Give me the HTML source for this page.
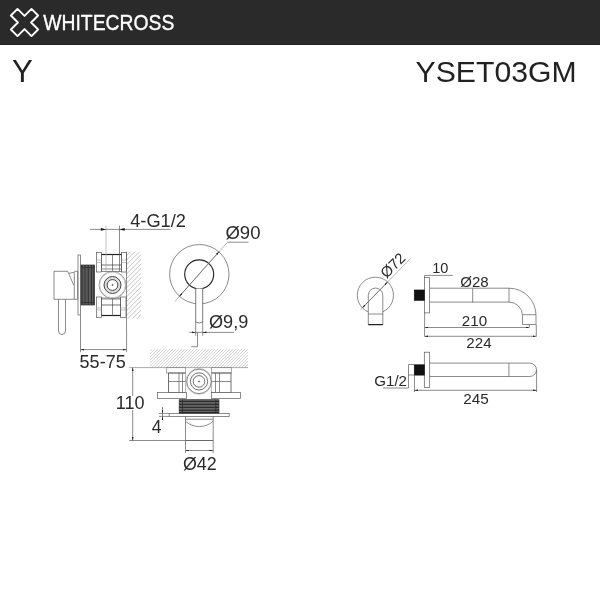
<!DOCTYPE html>
<html><head><meta charset="utf-8">
<style>
html,body{margin:0;padding:0;background:#fff;width:600px;height:600px;overflow:hidden}
svg{display:block;filter:grayscale(1)}
text{font-family:"Liberation Sans",sans-serif}
</style></head>
<body>
<svg width="600" height="600" viewBox="0 0 600 600">
<defs>
<pattern id="hatch" patternUnits="userSpaceOnUse" width="3.25" height="3.25" patternTransform="rotate(45)">
<line x1="0" y1="0" x2="0" y2="3.25" stroke="#777" stroke-width="0.65"/>
</pattern>
<pattern id="hatch2" patternUnits="userSpaceOnUse" width="2.12" height="2.12" patternTransform="rotate(45)">
<line x1="0" y1="0" x2="0" y2="2.12" stroke="#888" stroke-width="0.55"/>
</pattern>
<marker id="ar" viewBox="0 0 8 4" refX="8" refY="2" markerWidth="3.8" markerHeight="1.9" markerUnits="userSpaceOnUse" orient="auto">
<path d="M0,0 L8,2 L0,4 z" fill="#222"/>
</marker>
<marker id="arL" viewBox="0 0 8 4" refX="8" refY="2" markerWidth="8" markerHeight="2.6" markerUnits="userSpaceOnUse" orient="auto">
<path d="M0,0 L8,2 L0,4 z" fill="#111"/>
</marker>
</defs>
<!-- header -->
<rect x="0" y="0" width="600" height="45" fill="#2b2a29"/>
<rect x="0" y="44" width="600" height="1" fill="#222"/>
<path d="M17.5,8.9 L24.5,15.9 L31.5,8.9 L38.1,15.5 L31.1,22.5 L38.1,29.5 L31.5,36.1 L24.5,29.1 L17.5,36.1 L10.9,29.5 L17.9,22.5 L10.9,15.5 Z" fill="none" stroke="#fff" stroke-width="1.9" stroke-linejoin="round"/>
<text x="43.3" y="29.8" font-size="21.3" fill="#fff" stroke="#fff" stroke-width="0.35" textLength="131" lengthAdjust="spacingAndGlyphs">WHITECROSS</text>
<text x="11.9" y="82.2" font-size="31.2" fill="#222">Y</text>
<text x="415.6" y="82.2" font-size="29.8" fill="#222" textLength="161" lengthAdjust="spacingAndGlyphs">YSET03GM</text>

<g fill="none" stroke="#5a5a5a" stroke-width="0.7">
<!-- ===== side view valve ===== -->
<!-- handle -->
<path d="M54,271.3 H67.7 L68.7,273.3 L74.3,272.3 V299.3 H54 Z"/>
<path d="M74.3,271.3 H77.7 V299.3 H74.3"/>
<path d="M68.7,273.3 L73.7,285.3"/>
<path d="M58.5,299.3 V331 Q58.5,334.5 62,334.5 Q65.5,334.5 65.5,331 V299.3"/>
<!-- plate -->
<rect x="78" y="255" width="2.6" height="60"/>
<!-- thread -->
<rect x="81" y="265" width="13.5" height="40" fill="#5a5a5a" stroke="#333"/>
<path d="M82,265 V305 M85,265 V305 M88.3,265 V305 M91.5,265 V305 M93.8,265 V305" stroke="#2a2a2a" stroke-width="0.8"/>
<path d="M81,267.5 H94.5 M81,302.5 H94.5" stroke="#333" stroke-width="1.2"/>
<!-- top block -->
<rect x="96.5" y="252.5" width="5" height="19.5"/>
<rect x="121.5" y="252.5" width="5" height="19.5"/>
<rect x="101.5" y="254.5" width="20" height="17"/>
<path d="M101.5,254.5 H121.5" stroke="#222" stroke-width="1.2"/>
<path d="M112.5,254.5 V271.5 M101.5,269 H121.5"/>
<path d="M101.5,265 H121.5" stroke="#333"/>
<path d="M96.5,260 H101.5 M96.5,262.5 H101.5 M121.5,260 H126.5 M121.5,262.5 H126.5" stroke="#aaa"/>
<!-- bottom block -->
<rect x="96.5" y="297" width="5" height="20.5"/>
<rect x="120.5" y="297" width="5.5" height="20.5"/>
<rect x="101.5" y="298" width="19" height="17.5"/>
<path d="M101.5,315.5 H120.5" stroke="#222" stroke-width="1.2"/>
<path d="M112.5,298 V315.5 M101.5,299 H120.5"/>
<path d="M101.5,305 H120.5" stroke="#333"/>
<path d="M96.5,308 H101.5 M96.5,310 H101.5 M120.5,308 H126 M120.5,310 H126" stroke="#aaa"/>
<!-- center circles -->
<circle cx="112.5" cy="285" r="13.4"/>
<circle cx="112.5" cy="285" r="7" stroke="#ddd" stroke-width="3"/>
<circle cx="112.5" cy="285" r="12.8" stroke="#ccc" stroke-width="1"/>
<circle cx="112.5" cy="285" r="8.5" stroke="#333" stroke-width="0.9"/>
<circle cx="112.5" cy="285" r="5.4" stroke="#333" stroke-width="0.9"/>
<circle cx="112.5" cy="285" r="0.6" fill="#444"/>
<!-- wall -->
<rect x="126.5" y="251.7" width="14.5" height="67" fill="url(#hatch)" stroke="none"/>
<path d="M126.5,251.7 V330"/>
<!-- dims 4-G1/2 -->
<path d="M106,225.6 V271.5" stroke="#aaa"/>
<path d="M119.5,225.6 V271.5"/>
<path d="M90,229.4 H106" marker-end="url(#arL)"/>
<path d="M170.5,229.4 H119.5" marker-end="url(#arL)"/>
<path d="M106,229.4 H119.5"/>
<!-- 55-75 -->
<path d="M80.5,315 V352.2 M126.6,330 V352.2"/>
<path d="M103,349.6 H80.5" marker-end="url(#ar)"/>
<path d="M103,349.6 H126.6" marker-end="url(#ar)"/>

<!-- ===== front view ===== -->
<circle cx="199.3" cy="274.2" r="29.7"/>
<circle cx="199.2" cy="274.3" r="14.5" stroke="#222" stroke-width="1.15"/>
<path d="M195.7,288.6 V322 Q199.2,324 202.7,322 V288.6" fill="#fff" stroke="#444"/>
<path d="M195.7,322 V335.7 M202.7,322 V335.7"/>
<path d="M227.5,242.2 H248.5"/>
<path d="M227.5,242.2 L175,301.3" stroke="#999"/>
<path d="M199.2,274 L219.15,251.6" marker-end="url(#ar)"/>
<path d="M199.2,274 L179.3,296.45" marker-end="url(#ar)"/>
<path d="M189.3,332.4 H195.7" marker-end="url(#ar)"/>
<path d="M234,332.4 H202.7" marker-end="url(#ar)"/>
<path d="M195.7,332.4 H202.7"/>
<path d="M197.5,332.4 V346.7 H191.3"/>

<!-- ===== top view ===== -->
<rect x="150" y="349.2" width="98" height="18.3" fill="url(#hatch2)" stroke="none"/>
<path d="M129.2,367.6 H248" stroke="#888"/>
<!-- left nut -->
<rect x="166.5" y="367.5" width="19" height="5.5" stroke="#888"/>
<path d="M185.5,373 H168.5 V392.5" stroke="#333"/>
<path d="M168.5,392.5 H185.5 V373" stroke="#999"/>
<path d="M168.5,381.5 H185.5 M179,373 V392.5 M182.5,373 V392.5"/>
<rect x="157.5" y="392.5" width="29" height="6"/>
<!-- right nut -->
<rect x="211.5" y="367.5" width="20" height="5.5" stroke="#888"/>
<path d="M211.5,373 H231 V392.5" stroke="#333"/>
<path d="M231,392.5 H211.5 V373" stroke="#999"/>
<path d="M211.5,381.5 H231 M215.5,373 V392.5 M219.5,373 V392.5"/>
<rect x="211.5" y="392.5" width="29" height="6"/>
<!-- circles -->
<circle cx="199" cy="381.4" r="13" stroke="#bbb"/>
<circle cx="199" cy="381.4" r="12.2"/>
<circle cx="199" cy="381.4" r="8.6" stroke="#333"/>
<circle cx="199" cy="381.4" r="5.8" stroke="#333"/>
<circle cx="199" cy="381.5" r="0.6" fill="#444"/>
<!-- thread -->
<rect x="179.2" y="399.7" width="39.8" height="13.7" fill="#666" stroke="#333"/>
<path d="M179.2,401.4 H219 M179.2,404.3 H219 M179.2,407.3 H219 M179.2,410.2 H219 M179.2,412.6 H219" stroke="#222" stroke-width="1"/>
<path d="M182.5,399.7 V413.4 M215.8,399.7 V413.4" stroke="#222"/>
<rect x="169.2" y="413.4" width="60" height="3"/>
<!-- handle cylinder -->
<path d="M185.5,416.3 V440.5 H213.2 V416.3"/>
<path d="M185.5,419.2 H213.2"/>
<path d="M185.5,421.2 A20.7,20.7 0 0 0 213.2,421.2"/>
<path d="M185.5,440.5 V453 M213.2,440.5 V453"/>
<path d="M150,440.5 H213.2"/>
<path d="M199,450.5 H185.5" marker-end="url(#ar)"/>
<path d="M199,450.5 H213.2" marker-end="url(#ar)"/>
<!-- 110 -->
<path d="M129.2,440.5 H150"/>
<path d="M132.7,400 V367.5" marker-end="url(#ar)"/>
<path d="M132.7,400 V440.5" marker-end="url(#ar)"/>
<!-- 4 -->
<path d="M159,413.4 H169 M159,416.4 H169"/>
<path d="M162.5,407 V413.4" marker-end="url(#ar)"/>
<path d="M162.5,419.8 V416.4" marker-end="url(#ar)"/>
<path d="M162.5,413.4 V416.4"/>

<!-- ===== right: spout front ===== -->
<circle cx="375.4" cy="295.3" r="18.1"/>
<path d="M368.3,324.6 V295.3 A7.25,7.25 0 0 1 382.8,295.3 V324.6 Z" fill="#fff"/>
<path d="M368.3,314 H382.8"/>
<path d="M368.3,324.6 H382.8" stroke="#222" stroke-width="1.2"/>
<path d="M360.5,309.8 L410.5,258.5" stroke="#999"/>
<path d="M375,294.9 L387.63,281.96" marker-end="url(#ar)"/>
<path d="M375,294.9 L362.38,307.87" marker-end="url(#ar)"/>

<!-- spout side 1 -->
<rect x="424.6" y="277.4" width="5" height="35.5"/>
<path d="M424.6,275.4 V277.4"/>
<rect x="414.3" y="290" width="10" height="10.3" fill="#111" stroke="#111"/>
<path d="M429.7,288.2 H509 A27,27 0 0 1 536,315.2 V324.5 M429.7,302.1 H509 A13.5,13.5 0 0 1 522.5,315.6 V324.5 H536 M522.5,314.7 H536 M509,288.2 V302.1"/>
<path d="M472.7,288.5 V302.3"/>
<path d="M424.6,275.4 H452.8"/>
<path d="M424.6,312.9 V336.6 M536.3,324.5 V336.6 M529.3,324.5 V327.5"/>
<path d="M480,327.5 H424.6" marker-end="url(#ar)"/>
<path d="M480,327.5 H529.3" marker-end="url(#ar)"/>
<path d="M480,336.3 H424.6" marker-end="url(#ar)"/>
<path d="M480,336.3 H536.3" marker-end="url(#ar)"/>

<!-- spout side 2 -->
<rect x="424.3" y="352.2" width="5.4" height="35.4"/>
<rect x="414.3" y="364.8" width="10" height="10.3" fill="#111" stroke="#111"/>
<path d="M429.7,363.1 H529.8 A6.7,6.7 0 0 1 529.8,376.5 H429.7 M508.9,363.1 V376.5"/>
<path d="M408.5,364.5 H414.3 M408.5,375 H414.3 M408.5,364.5 V388 H383"/>
<path d="M414.5,375 V392 M536.6,370 V392"/>
<path d="M470,390.3 H414.5" marker-end="url(#ar)"/>
<path d="M470,390.3 H536.6" marker-end="url(#ar)"/>
</g>

<g fill="#2a2a2a" font-size="17.5" transform="translate(-0.6,0)">
<text x="130.8" y="226.6" textLength="55.64" lengthAdjust="spacingAndGlyphs">4-G1/2</text>
<text x="226" y="238.5" textLength="35.06" lengthAdjust="spacingAndGlyphs">Ø90</text>
<text x="209.6" y="328.3" textLength="39.28" lengthAdjust="spacingAndGlyphs">Ø9,9</text>
<text x="80.2" y="368.2" textLength="46.11" lengthAdjust="spacingAndGlyphs">55-75</text>
<rect x="117" y="396" width="27" height="14" fill="#fff"/>
<text x="116.3" y="408.9" textLength="28.74" lengthAdjust="spacingAndGlyphs">110</text>
<text x="152.3" y="432.7">4</text>
<text x="183.5" y="469.5" textLength="33.74" lengthAdjust="spacingAndGlyphs">Ø42</text>
</g>
<g fill="#2a2a2a" font-size="14.5" transform="translate(-0.7,0)">
<text x="433" y="273.1">10</text>
<text x="461" y="286.7" textLength="28.38" lengthAdjust="spacingAndGlyphs">Ø28</text>
<text x="462.5" y="325.7" textLength="25.29" lengthAdjust="spacingAndGlyphs">210</text>
<text x="467" y="347.7" textLength="25.29" lengthAdjust="spacingAndGlyphs">224</text>
<text x="375" y="385.5" textLength="32.70" lengthAdjust="spacingAndGlyphs">G1/2</text>
<text x="464" y="404" textLength="25.53" lengthAdjust="spacingAndGlyphs">245</text>
<text x="0" y="0" font-size="15" transform="translate(387.1,279.1) rotate(-45)">Ø72</text>
</g>
</svg>
</body></html>
